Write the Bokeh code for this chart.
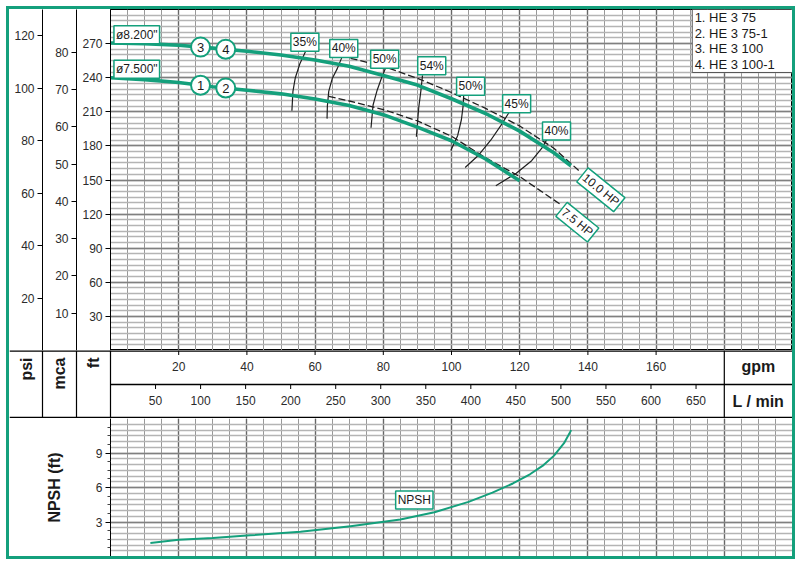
import numpy as np
from bokeh.plotting import figure
from bokeh.models import Range1d, LinearAxis, FixedTicker, Grid, Label
from bokeh.layouts import row, column
from bokeh.embed import file_html
from bokeh.resources import INLINE
from bokeh.core.properties import value

FONT = "Liberation Sans"
GREEN = "#14a07c"
INK = "#2b2b2b"

# ---------------- data ----------------
gpm_ticks = [20, 40, 60, 80, 100, 120, 140, 160]
lpm_ticks = [50, 100, 150, 200, 250, 300, 350, 400, 450, 500, 550, 600, 650]
ft_ticks = [30, 60, 90, 120, 150, 180, 210, 240, 270]
mca_ticks = [10, 20, 30, 40, 50, 60, 70, 80]
psi_ticks = [20, 40, 60, 80, 100, 120]
npsh_ticks = [3, 6, 9]

# impeller curves (gpm, ft)
d82_gpm = [0, 10, 20, 30, 40, 50, 60, 70, 80, 90, 100, 110, 120, 130, 135]
d82_ft = [270.5, 270, 268.5, 266, 263.3, 260, 255.5, 250, 242, 233.5, 221.5, 208.5, 193, 174, 162.5]
d75_gpm = [0, 10, 20, 30, 40, 50, 60, 70, 80, 90, 100, 110, 120]
d75_ft = [240, 238.3, 235.8, 232, 229, 225.8, 221.3, 215.5, 207.5, 196.5, 184.5, 168.5, 149.3]

# power limit lines (gpm, ft)
hp10_gpm = [70.4, 80, 90, 100, 110, 120, 130, 137.3]
hp10_ft = [257.1, 250, 239.5, 227, 213, 197.5, 178, 158.4]
hp75_gpm = [64, 70, 80, 90, 100, 110, 120, 132]
hp75_ft = [223.5, 219.5, 212, 202, 188.5, 169.5, 153, 128.4]

# iso-efficiency lines
eff_names = ["35%", "40%", "50%", "54%", "50%", "45%", "40%"]
eff_gpm = [[57.5, 55.5, 54.2, 53.5, 53.2],
           [68, 66.5, 65, 64, 63.6, 63.5],
           [81, 79.5, 78.2, 77, 76.4],
           [91.5, 91, 90.4, 89.7],
           [103.6, 103.4, 102.9, 101.8, 99.8],
           [117, 114.5, 111.5, 108, 104],
           [129, 126.5, 123.5, 119, 113]]
eff_ft = [[265, 252, 240, 228, 211],
          [259, 248, 239, 228, 215, 204],
          [251, 240, 229, 216, 196],
          [242, 228, 214, 188],
          [226, 215, 203, 189, 176],
          [210, 198, 185, 172, 161],
          [191, 178, 167, 156, 145]]
eff_lab_gpm = [57, 68.4, 80.4, 94.2, 105.6, 119.1, 130.8]
eff_lab_ft = [271.2, 265.7, 256.3, 250.5, 232.5, 217, 193.1]

# NPSH curve
npsh_gpm = [11.7, 20, 30, 41, 55.7, 70.4, 85, 95, 105, 112, 118, 123, 127, 130, 133, 135.1]
npsh_ft = [1.18, 1.45, 1.6, 1.84, 2.16, 2.64, 3.21, 3.85, 4.75, 5.55, 6.35, 7.15, 7.95, 8.75, 9.85, 10.99]

models = ["1. HE 3 75", "2. HE 3 75-1", "3. HE 3 100", "4. HE 3 100-1"]
marker_gpm = [26.4, 33.8]

# ---------------- geometry ----------------
X0, XC1, XC2, XF, XR = 9, 42, 76, 110, 792
Y0, YB1, YB2, YB3, YB = 9, 350, 384, 418, 556
GPM_MAX, FT_MAX, NPSH_MAX = 200, 300, 12
FT_PER_PSI, FT_PER_M, LPM_PER_GPM = 2.3067, 3.28084, 3.78541


def base_fig(width, height, x_range, y_range, **kw):
    p = figure(width=width, height=height, x_range=x_range, y_range=y_range,
               output_backend="svg", toolbar_location=None,
               x_axis_location=None, y_axis_location=None,
               min_border_left=kw.pop("mbl", 0), min_border_right=0,
               min_border_top=0, min_border_bottom=0, **kw)
    p.grid.visible = False
    p.outline_line_color = None
    p.background_fill_color = "white"
    p.border_fill_color = "white"
    return p


def left_axis(ticks, minor=None, range_name="default"):
    ax = LinearAxis(ticker=FixedTicker(ticks=ticks, minor_ticks=minor or []),
                    y_range_name=range_name)
    ax.major_label_text_font = FONT
    ax.major_label_text_font_size = "12px"
    ax.major_label_text_color = INK
    ax.major_tick_out = 5
    ax.major_tick_in = 0
    ax.minor_tick_out = 3 if minor else 0
    ax.minor_tick_in = 0
    ax.major_label_standoff = 3
    ax.axis_line_color = "black"
    ax.major_tick_line_color = "black"
    ax.minor_tick_line_color = "#444444"
    return ax


def flow_grid(p):
    p.add_layout(Grid(dimension=0, ticker=FixedTicker(ticks=list(range(0, 201, 20)),
                                                      minor_ticks=list(range(0, 201, 5))),
                      grid_line_color="#666666", grid_line_width=1.4,
                      minor_grid_line_color="#999999", minor_grid_line_width=1))


H1 = YB1 - Y0

# psi column
psi_fig = base_fig(XC1 + 1 - X0, H1, Range1d(0, 1), Range1d(0, FT_MAX / FT_PER_PSI), mbl=XC1 - X0)
psi_fig.add_layout(left_axis(psi_ticks), "left")

# mca column
mca_fig = base_fig(XC2 + 1 - (XC1 + 1), H1, Range1d(0, 1), Range1d(0, FT_MAX / FT_PER_M), mbl=XC2 - (XC1 + 1))
mca_fig.add_layout(left_axis(mca_ticks), "left")

# main chart with ft axis
main = base_fig(XR - (XC2 + 1), H1, Range1d(0, GPM_MAX), Range1d(0, FT_MAX), mbl=XF - (XC2 + 1))
main.add_layout(left_axis(ft_ticks), "left")
main.outline_line_color = "black"
flow_grid(main)
main.add_layout(Grid(dimension=1, ticker=FixedTicker(ticks=list(range(0, 301, 30)),
                                                     minor_ticks=list(range(0, 301, 5))),
                     grid_line_color="#808080", grid_line_width=1.4,
                     minor_grid_line_color="#b4b4b4", minor_grid_line_width=1.5))

# model list box (top-right)
main.quad(left=[170.6], right=[GPM_MAX], bottom=[244.6], top=[FT_MAX],
          fill_color="white", line_color="#555555", line_width=1)
main.text(x=[171.3] * 4, y=[292.9, 279.3, 265.6, 252.0], text=models,
          text_font=value(FONT), text_font_size="13px", text_color="#1a1a1a",
          text_align="left", text_baseline="middle")

# iso-efficiency lines
main.multi_line(xs=eff_gpm, ys=eff_ft, line_color="#1e1e1e", line_width=1.2)
# power lines
main.line(hp10_gpm, hp10_ft, line_color="#1e1e1e", line_width=1.3, line_dash="7 3")
main.line(hp75_gpm, hp75_ft, line_color="#1e1e1e", line_width=1.3, line_dash="7 3")
# impeller curves
main.line(d82_gpm, d82_ft, line_color=GREEN, line_width=3.6, line_join="round")
main.line(d75_gpm, d75_ft, line_color=GREEN, line_width=3.6, line_join="round")

# numbered markers
m82 = np.interp(marker_gpm, d82_gpm, d82_ft)
m75 = np.interp(marker_gpm, d75_gpm, d75_ft)
mx = marker_gpm + marker_gpm
my = list(m82) + list(m75)
main.scatter(mx, my, size=19, marker="circle", fill_color="white", line_color=GREEN, line_width=2)
main.text(mx, my, text=["3", "4", "1", "2"], text_font=value(FONT), text_font_size="13px",
          text_color="#1a1a1a", text_align="center", text_baseline="middle")


def boxed(p, x, y, text, angle=0.0, size="12px"):
    p.add_layout(Label(x=x, y=y, text=text, angle=angle, text_font=FONT, text_font_size=size,
                       text_color="#1a1a1a", text_align="center", text_baseline="middle",
                       background_fill_color="white", border_line_color=GREEN,
                       border_line_width=1.5, padding=2))


boxed(main, 7.7, 277.8, 'ø8.200"')
boxed(main, 7.7, 247.5, 'ø7.500"')
for gx, fy, name in zip(eff_lab_gpm, eff_lab_ft, eff_names):
    boxed(main, gx, fy, name)
boxed(main, 143.8, 141.4, "10.0 HP", angle=-0.68)
boxed(main, 136.9, 112.9, "7.5 HP", angle=-0.68)

# ---------------- flow axes strip ----------------
g0 = -(XF - X0) * GPM_MAX / (XR - XF)
sec2 = base_fig(XR - X0, YB3 - YB1, Range1d(X0, XR), Range1d(YB3, YB1))
sec2.extra_x_ranges = {"gpm": Range1d(g0, GPM_MAX),
                       "lpm": Range1d(g0 * LPM_PER_GPM, GPM_MAX * LPM_PER_GPM)}
sec2.segment(x0=[X0, XF, X0], y0=[YB1, YB2, YB3], x1=[XR, XR, XR], y1=[YB1, YB2, YB3],
             line_color="black", line_width=[2.5, 1.3, 3.5])
sec2.segment(x0=[XC1, XC2, XF], y0=[YB1] * 3, x1=[XC1, XC2, XF], y1=[YB3] * 3,
             line_color="black", line_width=1.2)
sec2.segment(x0=[180], y0=[YB1], x1=[180], y1=[YB3], x_range_name="gpm",
             line_color="black", line_width=1.2)
sec2.segment(x0=gpm_ticks, y0=[YB1] * len(gpm_ticks), x1=gpm_ticks, y1=[YB1 + 4.5] * len(gpm_ticks),
             x_range_name="gpm", line_color="black", line_width=1)
sec2.text(x=gpm_ticks, y=[365.5] * len(gpm_ticks), text=[str(t) for t in gpm_ticks],
          x_range_name="gpm", text_font=value(FONT), text_font_size="12px", text_color=INK,
          text_align="center", text_baseline="middle")
sec2.segment(x0=lpm_ticks, y0=[YB2] * len(lpm_ticks), x1=lpm_ticks, y1=[YB2 + 4.5] * len(lpm_ticks),
             x_range_name="lpm", line_color="black", line_width=1)
sec2.text(x=lpm_ticks, y=[400] * len(lpm_ticks), text=[str(t) for t in lpm_ticks],
          x_range_name="lpm", text_font=value(FONT), text_font_size="12px", text_color=INK,
          text_align="center", text_baseline="middle")
sec2.text(x=[190, 190], y=[366, 401], text=["gpm", "L / min"], x_range_name="gpm",
          text_font=value(FONT), text_font_size="16px", text_font_style="bold",
          text_color="#1a1a1a", text_align="center", text_baseline="middle")
sec2.text(x=[(X0 + XC1) / 2, (XC1 + XC2) / 2, (XC2 + XF) / 2], y=[357] * 3,
          text=["psi", "mca", "ft"], angle=np.pi / 2,
          text_font=value(FONT), text_font_size="16px", text_font_style="bold",
          text_color="#1a1a1a", text_align="right", text_baseline="middle")

# ---------------- NPSH panel ----------------
npsh = base_fig(XR - X0, YB - YB3, Range1d(0, GPM_MAX), Range1d(0, NPSH_MAX), mbl=XF - X0)
ax = left_axis(npsh_ticks, minor=[0.75 * k for k in range(1, 16) if k % 4])
ax.axis_label = "NPSH (ft)"
ax.axis_label_text_font = FONT
ax.axis_label_text_font_size = "16px"
ax.axis_label_text_font_style = "bold"
ax.axis_label_text_color = "#1a1a1a"
ax.axis_label_standoff = 30
npsh.add_layout(ax, "left")
flow_grid(npsh)
npsh.add_layout(Grid(dimension=1, ticker=FixedTicker(ticks=[3, 6, 9],
                                                     minor_ticks=[0.5 * k for k in range(0, 25)]),
                     grid_line_color="#808080", grid_line_width=1.4,
                     minor_grid_line_color="#b4b4b4", minor_grid_line_width=1.5))
npsh.line(npsh_gpm, npsh_ft, line_color=GREEN, line_width=2, line_join="round")
boxed(npsh, 89.1, 4.91, "NPSH")

layout = column(row(psi_fig, mca_fig, main), row(sec2), row(npsh),
                styles={"border": f"3px solid {GREEN}", "margin-left": "6px", "margin-top": "6px"})

open("out.html", "w").write(file_html(layout, INLINE))
